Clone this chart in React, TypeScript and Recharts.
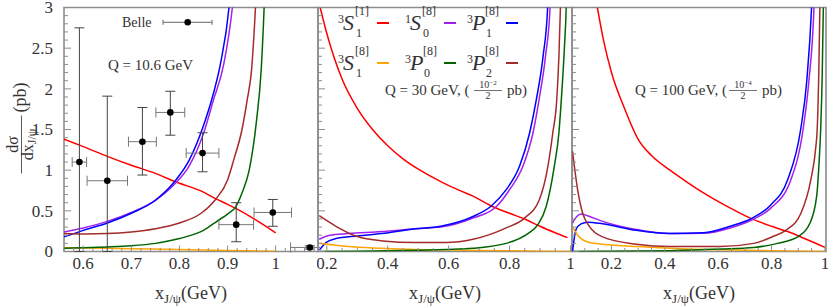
import React from 'react';
import { ComposedChart, LineChart, Line, Scatter, ErrorBar, XAxis, YAxis, ReferenceArea, Legend } from 'recharts';

const SERIF = "'Liberation Serif', 'DejaVu Serif', serif";
const TXT = { fontFamily: SERIF };
const INK = '#333333';
const FRAME = '#8d8d8d';

// colour + label parts of each state
const states = [
  { key: 's1', pre: '3', letter: 'S', sup: '[1]', sub: '1', color: '#ff0000' },
  { key: 's0', pre: '1', letter: 'S', sup: '[8]', sub: '0', color: '#a020f0' },
  { key: 'p1', pre: '3', letter: 'P', sup: '[8]', sub: '1', color: '#0000ff' },
  { key: 's8', pre: '3', letter: 'S', sup: '[8]', sub: '1', color: '#ffa500' },
  { key: 'p0', pre: '3', letter: 'P', sup: '[8]', sub: '0', color: '#006400' },
  { key: 'p2', pre: '3', letter: 'P', sup: '[8]', sub: '2', color: '#a52a2a' },
];

// Q = 10.6 GeV   [x, dsigma/dx]
const q106_s1 = [[0.56, 1.38], [0.6, 1.29], [0.65, 1.17], [0.7, 1.06], [0.75, 0.96], [0.79, 0.86], [0.85, 0.73], [0.875, 0.65], [0.9, 0.58], [0.92, 0.52], [0.95, 0.42], [0.98, 0.31], [1.0, 0.23]];
const q106_s0 = [[0.56, 0.24], [0.6, 0.29], [0.65, 0.37], [0.7, 0.48], [0.75, 0.63], [0.79, 0.83], [0.82, 1.05], [0.85, 1.45], [0.87, 1.85], [0.892, 2.3], [0.91, 3.0], [0.918, 3.5]];
const q106_p1 = [[0.56, 0.18], [0.6, 0.26], [0.65, 0.35], [0.7, 0.47], [0.75, 0.63], [0.79, 0.86], [0.82, 1.12], [0.85, 1.55], [0.87, 1.93], [0.885, 2.3], [0.903, 3.0], [0.91, 3.5]];
const q106_s8 = [[0.56, 0.045], [0.65, 0.04], [0.7, 0.035], [0.8, 0.025], [0.9, 0.013], [1.0, 0.003]];
const q106_p0 = [[0.56, 0.04], [0.6, 0.045], [0.65, 0.055], [0.7, 0.07], [0.75, 0.1], [0.8, 0.16], [0.85, 0.26], [0.88, 0.38], [0.9, 0.46], [0.917, 0.55], [0.93, 0.72], [0.945, 1.0], [0.96, 1.6], [0.97, 2.24], [0.976, 3.0], [0.979, 3.5]];
const q106_p2 = [[0.56, 0.22], [0.6, 0.215], [0.65, 0.22], [0.7, 0.24], [0.75, 0.28], [0.8, 0.35], [0.845, 0.47], [0.875, 0.64], [0.9, 0.88], [0.913, 1.13], [0.93, 1.5], [0.941, 1.87], [0.95, 2.24], [0.958, 3.0], [0.962, 3.5]];

// Q = 30 GeV (scaled)
const q30_s1 = [[0.178, 3.0], [0.2, 2.68], [0.25, 2.12], [0.3, 1.76], [0.35, 1.5], [0.4, 1.3], [0.45, 1.14], [0.506, 1.0], [0.574, 0.86], [0.63, 0.76], [0.68, 0.68], [0.74, 0.56], [0.8, 0.47], [0.855, 0.39], [0.9, 0.31], [0.95, 0.23], [0.99, 0.17]];
const q30_s0 = [[0.175, 0.15], [0.21, 0.2], [0.27, 0.22], [0.38, 0.245], [0.49, 0.28], [0.574, 0.3], [0.68, 0.41], [0.756, 0.55], [0.8, 0.76], [0.844, 1.05], [0.877, 1.46], [0.897, 1.87], [0.918, 2.4], [0.933, 3.0], [0.938, 3.5]];
const q30_p1 = [[0.176, 0.02], [0.197, 0.11], [0.23, 0.16], [0.27, 0.18], [0.38, 0.22], [0.49, 0.28], [0.574, 0.31], [0.68, 0.43], [0.74, 0.56], [0.789, 0.76], [0.833, 1.05], [0.866, 1.46], [0.888, 1.87], [0.91, 2.4], [0.925, 3.0], [0.93, 3.5]];
const q30_s8 = [[0.175, 0.1], [0.27, 0.06], [0.38, 0.04], [0.49, 0.025], [0.59, 0.02], [0.7, 0.013], [0.8, 0.008], [0.9, 0.004], [1.0, 0.0]];
const q30_p0 = [[0.175, 0.0], [0.3, 0.004], [0.4, 0.008], [0.5, 0.015], [0.59, 0.025], [0.68, 0.04], [0.789, 0.1], [0.86, 0.22], [0.893, 0.33], [0.92, 0.55], [0.947, 1.05], [0.962, 1.46], [0.97, 1.87], [0.98, 2.5], [0.986, 3.0], [0.989, 3.5]];
const q30_p2 = [[0.175, 0.44], [0.23, 0.31], [0.295, 0.19], [0.383, 0.13], [0.49, 0.11], [0.59, 0.11], [0.68, 0.15], [0.789, 0.29], [0.849, 0.41], [0.898, 0.64], [0.926, 1.05], [0.942, 1.46], [0.955, 1.87], [0.962, 2.4], [0.967, 3.0], [0.97, 3.5]];

// Q = 100 GeV (scaled)
const q100_s1 = [[0.147, 3.0], [0.17, 2.6], [0.2, 2.2], [0.25, 1.75], [0.3, 1.38], [0.35, 1.18], [0.419, 1.0], [0.48, 0.86], [0.545, 0.72], [0.63, 0.56], [0.72, 0.41], [0.8, 0.31], [0.86, 0.245], [0.93, 0.15], [1.0, 0.05]];
const q100_s0 = [[0.054, 0.35], [0.07, 0.43], [0.086, 0.46], [0.11, 0.44], [0.167, 0.37], [0.293, 0.27], [0.419, 0.22], [0.545, 0.225], [0.645, 0.29], [0.727, 0.39], [0.796, 0.53], [0.872, 0.88], [0.918, 1.5], [0.94, 2.1], [0.959, 3.0], [0.964, 3.5]];
const q100_p1 = [[0.054, 0.0], [0.067, 0.27], [0.086, 0.34], [0.111, 0.36], [0.167, 0.34], [0.293, 0.26], [0.419, 0.22], [0.545, 0.23], [0.645, 0.31], [0.727, 0.41], [0.796, 0.57], [0.86, 0.88], [0.909, 1.5], [0.932, 2.1], [0.95, 3.0], [0.956, 3.5]];
const q100_s8 = [[0.054, 0.3], [0.079, 0.18], [0.117, 0.11], [0.167, 0.09], [0.293, 0.06], [0.419, 0.04], [0.607, 0.02], [0.8, 0.01], [1.0, 0.0]];
const q100_p0 = [[0.054, 0.0], [0.3, 0.005], [0.419, 0.01], [0.607, 0.03], [0.733, 0.05], [0.822, 0.1], [0.903, 0.19], [0.944, 0.35], [0.969, 0.68], [0.978, 1.09], [0.984, 1.5], [0.99, 2.2], [0.994, 3.0], [0.996, 3.5]];
const q100_p2 = [[0.054, 1.23], [0.073, 0.76], [0.092, 0.47], [0.117, 0.31], [0.167, 0.18], [0.293, 0.09], [0.419, 0.06], [0.607, 0.06], [0.733, 0.1], [0.809, 0.19], [0.856, 0.265], [0.91, 0.47], [0.947, 0.88], [0.966, 1.29], [0.971, 1.5], [0.977, 2.2], [0.981, 3.0], [0.984, 3.5]];

// Belle data
const belleX = [0.592, 0.65, 0.723, 0.781, 0.848, 0.918, 0.994, 1.071];
const belleY = [1.1, 0.87, 1.35, 1.71, 1.21, 0.33, 0.48, 0.05];
const belleYErr = [[1.1, 1.65], [0.87, 1.04], [0.41, 0.42], [0.28, 0.26], [0.23, 0.25], [0.21, 0.27], [0.17, 0.16], [0.02, 0.02]];
const belleXErr = [0.015, 0.042, 0.029, 0.03, 0.034, 0.036, 0.039, 0.04];

const range = (a: number, b: number, step: number) => {
  const out: number[] = [];
  for (let v = a; v <= b + 1e-9; v += step) out.push(+v.toFixed(3));
  return out;
};
const yTicks = range(0, 3, 0.1);
const pts = (a: number[][]) => a.map(([x, y]) => ({ x, y }));
const belle = belleX.map((x, i) => ({ x, y: belleY[i], ex: belleXErr[i], ey: belleYErr[i] }));

const isMajor = (v: number, step: number) => Math.abs(v / step - Math.round(v / step)) < 1e-6;
const fmt = (v: number) => String(+v.toFixed(2));

const XTick = (p: any) => {
  const v = p.payload.value;
  const major = isMajor(v, p.step);
  return (
    <g>
      <line x1={p.x} x2={p.x} y1={p.y} y2={p.y - (major ? 6 : 3.5)} stroke={FRAME} strokeWidth={1} />
      {major && (
        <text x={p.x} y={p.y + 17} textAnchor="middle" style={TXT} fontSize={17} fill={INK}>{fmt(v)}</text>
      )}
    </g>
  );
};

const YTick = (p: any) => {
  const v = p.payload.value;
  const major = isMajor(v, 0.5);
  return (
    <g>
      <line x1={p.x} x2={p.x + (major ? 7 : 4)} y1={p.y} y2={p.y} stroke={FRAME} strokeWidth={1} />
      {major && p.labelled && (
        <text x={p.x - 11} y={p.y} dy="0.35em" textAnchor="end" style={TXT} fontSize={17} fill={INK}>{fmt(v)}</text>
      )}
    </g>
  );
};

const XTitle = (props: any) => {
  const vb = props.viewBox;
  return (
    <text x={vb.x + vb.width / 2} y={vb.y + 47.5} textAnchor="middle" style={TXT} fontSize={18} fill={INK}>
      x<tspan fontSize={13} dy={4}>J/ψ</tspan><tspan fontSize={18} dy={-4}>(GeV)</tspan>
    </text>
  );
};

const YTitle = (props: any) => {
  const vb = props.viewBox;
  const cx = vb.x + 25;
  const cy = vb.y + vb.height / 2;
  return (
    <g transform={`translate(${cx},${cy}) rotate(-90)`} style={TXT} fill={INK}>
      <text x={-15} y={-7} textAnchor="middle" fontSize={16}>dσ</text>
      <line x1={-44} x2={14} y1={-3.5} y2={-3.5} stroke={INK} strokeWidth={0.8} />
      <text x={-15} y={8} textAnchor="middle" fontSize={16}>dx<tspan fontSize={12} dy={3}>J/ψ</tspan></text>
      <text x={17} y={1} fontSize={18}>(pb)</text>
    </g>
  );
};

const BelleLegend = () => (
  <svg width={320} height={40} style={{ display: 'block' }}>
    <text x={122} y={27} style={TXT} fontSize={14} fill={INK}>Belle</text>
    <line x1={163} x2={212} y1={22.3} y2={22.3} stroke="#666" />
    <line x1={163} x2={163} y1={19.8} y2={24.8} stroke="#666" />
    <line x1={212} x2={212} y1={19.8} y2={24.8} stroke="#666" />
    <circle cx={187.7} cy={22.3} r={3.3} fill="#000" />
  </svg>
);

const StateLegend = () => (
  <svg width={257} height={80} style={{ display: 'block', fontFamily: SERIF }} fill={INK}>
    {states.map((s, i) => {
      const ex = 21 + [0, 67, 129][i % 3];
      const ey = 30 + 40 * Math.floor(i / 3);
      const le = s.letter === 'P' ? 18 : 17;
      return (
        <g key={s.key} transform={`translate(${ex},${ey})`}>
          <text x={0} y={-7} fontSize={12}>{s.pre}</text>
          <text x={5} y={0} fontSize={22} fontStyle="italic">{s.letter}</text>
          <text x={le} y={-15} fontSize={12}>{s.sup}</text>
          <text x={le + 1} y={7} fontSize={12}>{s.sub}</text>
          <line x1={39} x2={51} y1={-7} y2={-7} stroke={s.color} strokeWidth={2} />
        </g>
      );
    })}
  </svg>
);

const panels = [
  { id: 'p1', left: 0, yWidth: 64, width: 320, domain: [0.56, 1.088], ticks: range(0.56, 1.08, 0.02), major: 0.1,
    curves: { s1: q106_s1, s0: q106_s0, p1: q106_p1, s8: q106_s8, p0: q106_p0, p2: q106_p2 } as any },
  { id: 'p2', left: 317, yWidth: 1, width: 257, domain: [0.171, 1.005], ticks: range(0.2, 1.0, 0.05), major: 0.2,
    curves: { s1: q30_s1, s0: q30_s0, p1: q30_p1, s8: q30_s8, p0: q30_p0, p2: q30_p2 } as any },
  { id: 'p3', left: 571, yWidth: 1, width: 257, domain: [0.052, 1.004], ticks: range(0.1, 1.0, 0.05), major: 0.2,
    curves: { s1: q100_s1, s0: q100_s0, p1: q100_p1, s8: q100_s8, p0: q100_p0, p2: q100_p2 } as any },
];

const renderPanel = (cfg: any, index: number) => {
  const first = index === 0;
  const inner = [
    <ReferenceArea key="frame" x1={cfg.domain[0]} x2={cfg.domain[1]} y1={0} y2={3} fill="none" stroke={FRAME} strokeWidth={1.6} ifOverflow="visible" />,
    <XAxis key="x" type="number" dataKey="x" domain={cfg.domain} ticks={cfg.ticks} interval={0} allowDataOverflow
      axisLine={false} tickLine={false} tickSize={0} tickMargin={0} height={54.5}
      tick={(p: any) => <XTick {...p} step={cfg.major} />} label={{ content: XTitle }} />,
    <YAxis key="y" type="number" domain={[0, 3]} ticks={yTicks} interval={0} allowDataOverflow width={cfg.yWidth}
      axisLine={false} tickLine={false} tickSize={0} tickMargin={0}
      tick={(p: any) => <YTick {...p} labelled={first} />} label={first ? { content: YTitle } : undefined} />,
    ...states.map((s) => (
      <Line key={s.key} data={pts(cfg.curves[s.key])} dataKey="y" type="monotone" stroke={s.color}
        strokeWidth={1.5} dot={false} activeDot={false} isAnimationActive={false} />
    )),
  ];
  const margin = { top: 7.5, right: 2, bottom: 0, left: 0 };
  return (
    <div key={cfg.id} style={{ position: 'absolute', left: cfg.left, top: 0 }}>
      {first ? (
        <ComposedChart width={cfg.width} height={306} margin={margin}>
          {inner}
          <Scatter data={belle} dataKey="y" isAnimationActive={false}
            shape={(p: any) => <circle cx={p.cx} cy={p.cy} r={3.3} fill="#000" />}>
            <ErrorBar dataKey="ey" direction="y" width={5} stroke="#444" strokeWidth={1} />
            <ErrorBar dataKey="ex" direction="x" width={5} stroke="#777" strokeWidth={1} />
          </Scatter>
          <Legend layout="horizontal" verticalAlign="middle" align="center" content={BelleLegend}
            wrapperStyle={{ top: 0, left: 0, width: 320, height: 40 }} />
        </ComposedChart>
      ) : (
        <LineChart width={cfg.width} height={306} margin={margin}>
          {inner}
          {index === 1 && (
            <Legend layout="horizontal" verticalAlign="middle" align="center" content={StateLegend}
              wrapperStyle={{ top: 0, left: 0, width: 257, height: 80 }} />
          )}
        </LineChart>
      )}
    </div>
  );
};

const Scale = ({ x, q, exp }: { x: number; q: string; exp: string }) => {
  const fx = x + (q.length > 2 ? 108 : 103);
  return (
    <g style={TXT} fill={INK}>
      <text x={x} y={95} fontSize={15}>{`Q = ${q} GeV, (`}</text>
      <text x={fx} y={88} textAnchor="middle" fontSize={10}>10<tspan fontSize={7} dy={-3}>{exp}</tspan></text>
      <line x1={fx - 14} x2={fx + 14} y1={90.5} y2={90.5} stroke={INK} strokeWidth={0.7} />
      <text x={fx} y={98.5} textAnchor="middle" fontSize={10}>2</text>
      <text x={fx + 19} y={95} fontSize={15}>pb)</text>
    </g>
  );
};

export default function App() {
  return (
    <div style={{ position: 'absolute', left: 0, top: 0, width: 830, height: 306, background: '#fff', fontFamily: SERIF }}>
      {panels.map(renderPanel)}
      <svg width={830} height={306} style={{ position: 'absolute', left: 0, top: 0, pointerEvents: 'none' }}>
        <text x={108} y={70} style={TXT} fontSize={15} fill={INK}>Q = 10.6 GeV</text>
        <Scale x={385} q="30" exp="−2" />
        <Scale x={635} q="100" exp="−4" />
      </svg>
    </div>
  );
}
